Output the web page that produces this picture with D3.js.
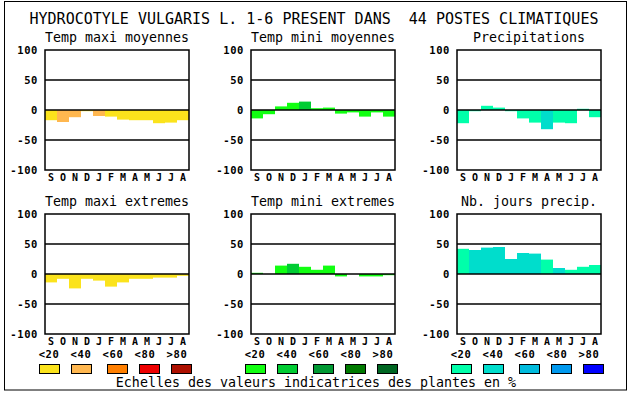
<!DOCTYPE html>
<html><head><meta charset="utf-8">
<script src="https://cdn.jsdelivr.net/npm/d3@7"></script>
<style>
html,body{margin:0;padding:0;background:#fff;}
svg{display:block;}
</style></head>
<body><svg id="c" width="630" height="394"></svg>
<script>
const title = "HYDROCOTYLE VULGARIS L. 1-6 PRESENT DANS  44 POSTES CLIMATIQUES";
const months = ["S","O","N","D","J","F","M","A","M","J","J","A"];
const yTicks = [100, 50, 0, -50, -100];
const classLabels = ["<20","<40","<60","<80",">80"];
const footer = "Echelles des valeurs indicatrices des plantes en %";

const palTemp = ["#fbe31c","#ffb74f","#ff7f00","#ee0000","#ad1000"];
const palMini = ["#11ff11","#00cc33","#009933","#007a00","#006622"];
const palPrec = ["#00ffaa","#00ddcc","#00bbdd","#0099ee","#0000ff"];

const panelTitles = ["Temp maxi moyennes","Temp mini moyennes","Precipitations",
                     "Temp maxi extremes","Temp mini extremes","Nb. jours precip."];

const maxiMoyValues  = [-17,-20,-12,-2,-10,-11,-16,-17,-17,-22,-21,-17];
const maxiMoyClasses = [0,1,1,0,1,0,0,0,0,0,0,0];
const miniMoyValues  = [-14,-7,6,12,14,3,4,-6,-4,-11,-4,-11];
const miniMoyClasses = [0,0,0,0,1,0,0,0,0,0,0,0];
const precValues     = [-22,-2,7,4,-2,-14,-21,-32,-21,-22,2,-12];
const precClasses    = [0,0,0,0,0,0,0,1,0,0,0,0];
const maxiExtValues  = [-14,-8,-24,-8,-11,-21,-14,-8,-8,-6,-6,-3];
const maxiExtClasses = [0,0,0,0,0,0,0,0,0,0,0,0];
const miniExtValues  = [2,0,14,17,12,7,14,-4,0,-4,-4,-2];
const miniExtClasses = [0,0,0,1,0,0,0,0,0,0,0,0];
const joursValues    = [42,40,44,45,25,35,34,24,10,7,12,15];
const joursClasses   = [0,1,1,1,1,1,1,0,1,0,0,0];

const panels = [
  {values:maxiMoyValues, classes:maxiMoyClasses, pal:palTemp},
  {values:miniMoyValues, classes:miniMoyClasses, pal:palMini},
  {values:precValues,    classes:precClasses,    pal:palPrec},
  {values:maxiExtValues, classes:maxiExtClasses, pal:palTemp},
  {values:miniExtValues, classes:miniExtClasses, pal:palMini},
  {values:joursValues,   classes:joursClasses,   pal:palPrec}
];

const MONO = "'DejaVu Sans Mono',monospace";
const svg = d3.select("#c");
svg.append("rect").attr("x",4.5).attr("y",1.5).attr("width",622).attr("height",388.5)
  .attr("fill","none").attr("stroke","#000").attr("stroke-width",1);

svg.append("text").attr("x",314).attr("y",24).attr("text-anchor","middle")
  .attr("font-family",MONO).attr("font-size",15).attr("fill","#000")
  .style("white-space","pre").text(title);

const colX = [45,251,457], rowY = [50,214];
const pw = 144, ph = 120;

panels.forEach((p,i) => {
  const x0 = colX[i%3], y0 = rowY[Math.floor(i/3)];
  const g = svg.append("g").attr("transform",`translate(${x0},${y0})`);
  const x = d3.scaleBand().domain(d3.range(12)).range([0,pw]).padding(0);
  const y = d3.scaleLinear().domain([-100,100]).range([ph,0]);

  g.append("text").attr("x",pw/2).attr("y",-8).attr("text-anchor","middle")
    .attr("font-family",MONO).attr("font-size",13.3).text(panelTitles[i]);

  g.selectAll("rect.bar").data(p.values).join("rect").attr("class","bar")
    .attr("x",(d,j)=>x(j)).attr("width",x.bandwidth())
    .attr("y",d=>y(Math.max(0,d))).attr("height",d=>Math.abs(y(d)-y(0)))
    .attr("fill",(d,j)=>p.pal[p.classes[j]]);

  g.selectAll("line.grid").data([50,0,-50]).join("line").attr("class","grid")
    .attr("x1",0).attr("x2",pw).attr("y1",d=>y(d)).attr("y2",d=>y(d))
    .attr("stroke","#000").attr("stroke-width",1.5);

  g.append("rect").attr("x",0).attr("y",0).attr("width",pw).attr("height",ph)
    .attr("fill","none").attr("stroke","#000").attr("stroke-width",1.5);

  const ya = d3.axisLeft(y).tickValues(yTicks).tickSize(0).tickPadding(7)
    .tickFormat(d=>String(d));
  const ag = g.append("g").call(ya);
  ag.select(".domain").remove();
  ag.selectAll("text").attr("font-family",MONO)
    .attr("font-weight","bold").attr("font-size",10.5).attr("letter-spacing",0.6)
    .attr("fill","#000");

  const xa = d3.axisBottom(x).tickSize(0).tickPadding(3).tickFormat(j=>months[j]);
  const xg = g.append("g").attr("transform",`translate(0,${ph})`).call(xa);
  xg.select(".domain").remove();
  xg.selectAll("text").attr("font-family",MONO)
    .attr("font-weight","bold").attr("font-size",11).attr("fill","#000")
    .attr("textLength",6).attr("lengthAdjust","spacingAndGlyphs");

  if (i >= 3) {
    g.selectAll("text.cl").data(classLabels).join("text").attr("class","cl")
      .attr("x",(d,k)=>4+k*32).attr("y",ph+24).attr("text-anchor","middle")
      .attr("font-family",MONO)
      .attr("font-weight","bold").attr("font-size",10.5).attr("letter-spacing",0.6).text(d=>d);
    const sw = [-6,26,62,94,126];
    g.selectAll("rect.sw").data(p.pal).join("rect").attr("class","sw")
      .attr("x",(d,k)=>sw[k]+0.5).attr("y",364.5-y0).attr("width",20).attr("height",9)
      .attr("fill",d=>d).attr("stroke","#000").attr("stroke-width",1);
  }
});

svg.append("text").attr("x",316).attr("y",387).attr("text-anchor","middle")
  .attr("font-family",MONO).attr("font-size",13.3).text(footer);
</script></body></html>
